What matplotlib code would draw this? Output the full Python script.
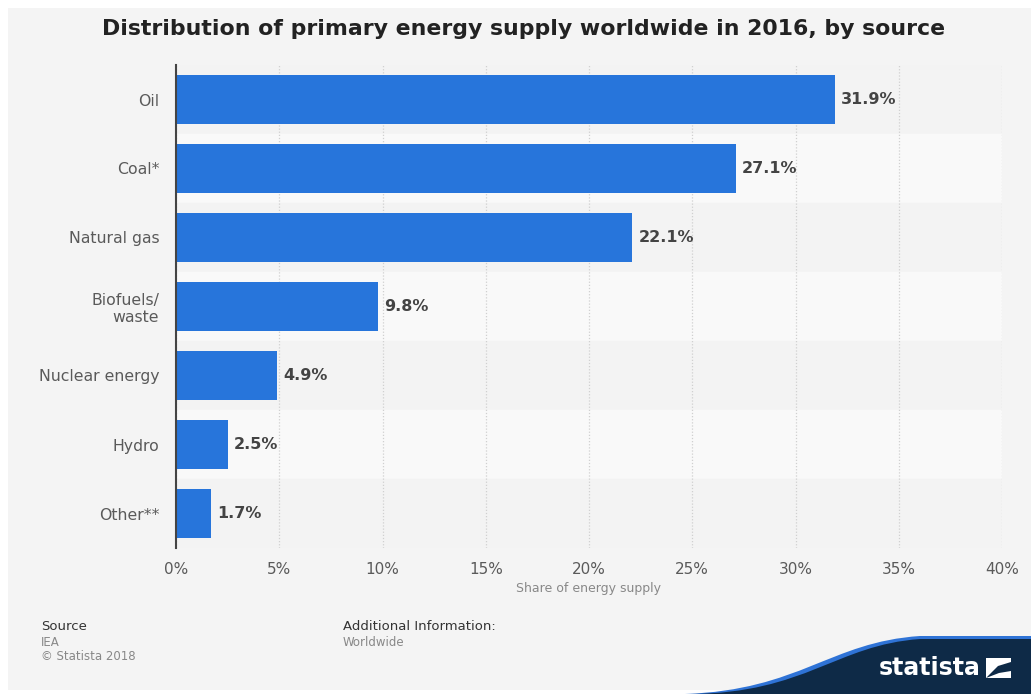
import matplotlib.pyplot as plt
from matplotlib.path import Path
from matplotlib.patches import PathPatch, Rectangle, Polygon

sources = ['Oil', 'Coal*', 'Natural gas', 'Biofuels/\nwaste', 'Nuclear energy', 'Hydro', 'Other**']
shares = [31.9, 27.1, 22.1, 9.8, 4.9, 2.5, 1.7]
ticks = [0, 5, 10, 15, 20, 25, 30, 35, 40]

W, H = 1031, 694
fig = plt.figure(figsize=(W / 100, H / 100), dpi=100)
fig.patch.set_facecolor('white')

# background layer in pixel coords
bg = fig.add_axes([0, 0, 1, 1], zorder=-1)
bg.set_xlim(0, W)
bg.set_ylim(H, 0)
bg.axis('off')
bg.add_patch(Rectangle((8, 8), W - 8, H - 12, facecolor='#f4f4f4', edgecolor='none'))

# statista logo swoosh
def swoosh(dx, dy, color):
    verts = [(685 + dx, 694), (800 + dx, 690 + dy), (830 + dx, 642 + dy), (920, 636 + dy),
             (1031, 636 + dy), (1031, 694), (685 + dx, 694)]
    codes = [Path.MOVETO, Path.CURVE4, Path.CURVE4, Path.CURVE4,
             Path.LINETO, Path.LINETO, Path.CLOSEPOLY]
    bg.add_patch(PathPatch(Path(verts, codes), facecolor=color, edgecolor='none'))

swoosh(0, 0, '#2f73d6')
swoosh(6, 3, '#0e2a47')
bg.text(930, 668, 'statista', color='white', fontsize=17, fontweight='bold',
        ha='center', va='center')
bg.add_patch(Rectangle((986, 658), 25, 20, facecolor='white', edgecolor='none'))
bg.add_patch(Polygon([(986, 678), (998, 666), (1011, 662), (1011, 671), (999, 673)],
                     facecolor='#0e2a47', edgecolor='none'))

ax = fig.add_axes([176 / W, 1 - 548 / H, 826 / W, 483 / H])
ax.set_facecolor('none')
n = len(sources)
ypos = list(range(n))
for i in ypos:
    ax.axhspan(i - 0.5, i + 0.5, color='#f3f3f3' if i % 2 == 0 else '#f9f9f9', zorder=0)

bars = ax.barh(ypos, shares, height=0.7, color='#2775db', zorder=3)
for b, v in zip(bars, shares):
    ax.text(v + 0.3, b.get_y() + b.get_height() / 2, f'{v}%', va='center', ha='left',
            fontsize=11.5, fontweight='bold', color='#444444', zorder=4)

ax.set_xlim(0, 40)
ax.set_ylim(n - 0.5, -0.5)
ax.set_yticks(ypos)
ax.set_yticklabels(sources, fontsize=11.3, color='#5a5a5a', ha='right')
ax.set_xticks(ticks)
ax.set_xticklabels([f'{t}%' for t in ticks], fontsize=11, color='#5a5a5a')
ax.tick_params(axis='both', length=0)
ax.tick_params(axis='y', pad=12)
ax.tick_params(axis='x', pad=10)
ax.xaxis.grid(True, linestyle=(0, (1, 1.5)), color='#d0d0d0', linewidth=0.9, zorder=1)
ax.set_axisbelow(True)
for s in ['top', 'right', 'bottom']:
    ax.spines[s].set_visible(False)
ax.spines['left'].set_color('#444444')
ax.spines['left'].set_linewidth(1.5)
ax.spines['left'].set_zorder(5)
ax.set_xlabel('Share of energy supply', fontsize=9, color='#888888', labelpad=4)

fig.text(0.508, 1 - 29 / H, 'Distribution of primary energy supply worldwide in 2016, by source',
         ha='center', va='center', fontsize=15.8, fontweight='bold', color='#222222')

fig.text(41 / W, 1 - 627 / H, 'Source', fontsize=9.5, color='#333333', va='center')
fig.text(41 / W, 1 - 642 / H, 'IEA', fontsize=8.5, color='#888888', va='center')
fig.text(41 / W, 1 - 657 / H, '\u00a9 Statista 2018', fontsize=8.5, color='#888888', va='center')
fig.text(343 / W, 1 - 627 / H, 'Additional Information:', fontsize=9.5, color='#333333', va='center')
fig.text(343 / W, 1 - 642 / H, 'Worldwide', fontsize=8.5, color='#888888', va='center')

fig.savefig('out.png', dpi=100, facecolor=fig.get_facecolor())
